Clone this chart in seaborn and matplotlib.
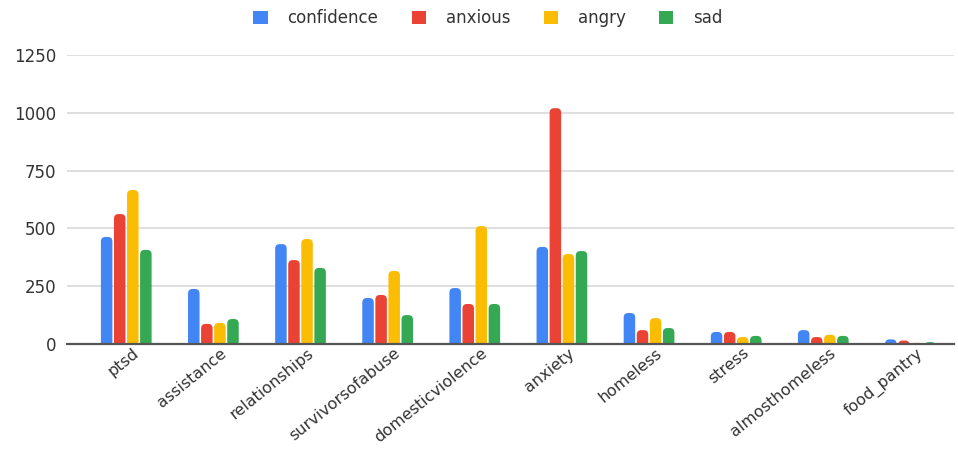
import seaborn as sns
import matplotlib.pyplot as plt
import matplotlib.transforms as mtransforms
from matplotlib.patches import FancyBboxPatch, Patch
import pandas as pd

# Data
categorias = ['ptsd', 'assistance', 'relationships', 'survivorsofabuse', 'domesticviolence',
              'anxiety', 'homeless', 'stress', 'almosthomeless', 'food_pantry']
confidence = [463, 238, 432, 199, 242, 420, 134, 52, 60, 20]
anxious = [562, 87, 363, 212, 173, 1020, 60, 52, 30, 15]
angry = [666, 91, 454, 316, 510, 389, 112, 30, 40, 5]
sad = [407, 108, 329, 125, 173, 402, 69, 35, 35, 8]

series = {'confidence': confidence, 'anxious': anxious, 'angry': angry, 'sad': sad}
colores = ['#4285F4', '#EA4335', '#FBBC04', '#34A853']

df = pd.DataFrame([
    {'cat': c, 'emocion': k, 'valor': v}
    for k, vals in series.items() for c, v in zip(categorias, vals)
])

sns.set_style('white')
plt.rcParams['font.family'] = ['DejaVu Sans']

fig = plt.figure(figsize=(9.58, 4.5), dpi=100)
ax = fig.add_axes([67 / 958, 1 - 344 / 450, 887 / 958, 289 / 450])

sns.barplot(data=df, x='cat', y='valor', hue='emocion', palette=colores, saturation=1,
            width=0.6, gap=0.12, ax=ax, legend=False)

ax.set_xlim(-0.68, 9.5)
ax.set_ylim(0, 1250)

# barras con esquinas redondeadas, como en la hoja de calculo
r_px = 4.5
px_x = 10.18 / 887
px_y = 1250 / 289
for p in list(ax.patches):
    x, w, h = p.get_x(), p.get_width(), p.get_height()
    fb = FancyBboxPatch((x, -25), w, h + 25,
                        boxstyle=f'round,pad=0,rounding_size={r_px * px_x}',
                        mutation_aspect=px_y / px_x,
                        facecolor=p.get_facecolor(), edgecolor='none', zorder=2)
    p.set_visible(False)
    ax.add_patch(fb)

ax.set_yticks([0, 250, 500, 750, 1000, 1250])
ax.yaxis.grid(True, color='#d6d6d6', linewidth=1.1)
ax.set_axisbelow(True)
ax.set_xlabel('')
ax.set_ylabel('')
for s in ['top', 'right', 'left']:
    ax.spines[s].set_visible(False)
ax.spines['bottom'].set_color('#555555')
ax.spines['bottom'].set_linewidth(1.6)
ax.spines['bottom'].set_zorder(3)
ax.tick_params(axis='y', length=0, labelsize=12, labelcolor='#333333', pad=8)
ax.tick_params(axis='x', length=0, labelsize=11.5, labelcolor='#333333', pad=1)
desplaza = mtransforms.ScaledTranslation(6 / 100, 0, fig.dpi_scale_trans)
for t in ax.get_xticklabels():
    t.set_rotation(39)
    t.set_ha('right')
    t.set_rotation_mode('anchor')
    t.set_transform(t.get_transform() + desplaza)

handles = [Patch(facecolor=c, edgecolor='none') for c in colores]
fig.legend(handles, list(series.keys()), loc='center', bbox_to_anchor=(488 / 958, 1 - 18 / 450),
           ncol=4, frameon=False, fontsize=12, handlelength=0.85, handleheight=0.85,
           columnspacing=2.0, handletextpad=1.2, labelcolor='#333333')

plt.savefig('out.png', dpi=100)
